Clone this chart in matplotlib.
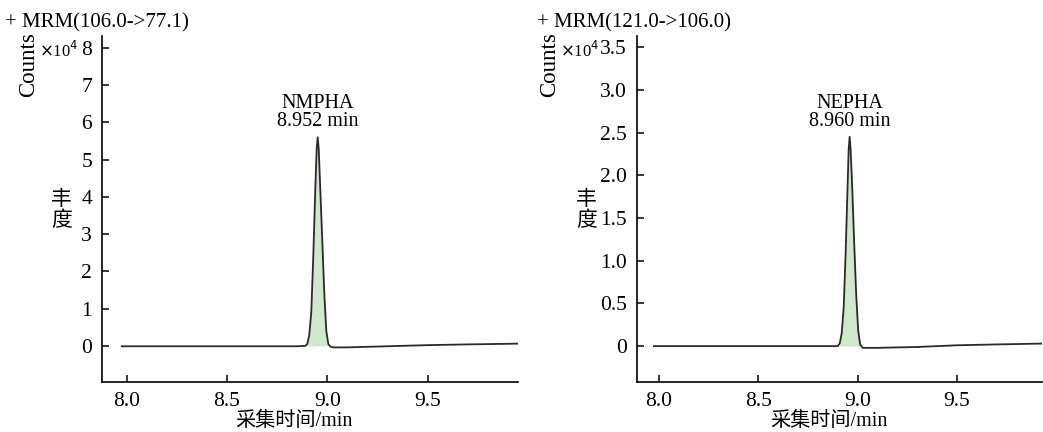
import matplotlib
matplotlib.use("Agg")
import matplotlib.pyplot as plt

plt.rcParams['font.family'] = ['Liberation Serif', 'Noto Sans CJK SC']
plt.rcParams['font.size'] = 15
plt.rcParams['axes.linewidth'] = 1.2

# retention time (min) and abundance (x10^4 counts)
t1 = [7.975, 8.1, 8.3, 8.5, 8.7, 8.85, 8.89, 8.90, 8.91, 8.92, 8.93, 8.94,
      8.947, 8.952, 8.957, 8.965, 8.975, 8.985, 8.995, 9.005, 9.015, 9.03,
      9.1, 9.3, 9.5, 9.7, 9.95]
y1 = [-0.01, -0.01, -0.01, -0.01, -0.01, -0.01, 0.0, 0.05, 0.3, 0.9, 2.4, 4.2,
      5.3, 5.6, 5.3, 4.2, 2.8, 1.4, 0.4, 0.05, -0.02, -0.04,
      -0.04, -0.01, 0.02, 0.04, 0.06]

t2 = [7.975, 8.1, 8.3, 8.5, 8.7, 8.85, 8.90, 8.91, 8.92, 8.93, 8.94, 8.95,
      8.955, 8.96, 8.965, 8.973, 8.983, 8.993, 9.003, 9.013, 9.025, 9.04,
      9.1, 9.3, 9.5, 9.7, 9.93]
y2 = [0.0, 0.0, 0.0, 0.0, 0.0, 0.0, 0.0, 0.03, 0.15, 0.45, 1.1, 1.9,
      2.3, 2.45, 2.3, 1.85, 1.2, 0.6, 0.18, 0.02, -0.02, -0.02,
      -0.02, -0.01, 0.01, 0.02, 0.03]

panels = [
    dict(t=t1, y=y1, title="+ MRM(106.0->77.1)", name="NMPHA", rt="8.952 min",
         apex=(8.952, 5.6), peak=(8.90, 9.005),
         yticks=[0, 1, 2, 3, 4, 5, 6, 7, 8],
         ylabels=["0", "1", "2", "3", "4", "5", "6", "7", "8"],
         ylim=(-0.97, 8.32), xlim=(7.875, 9.95),
         pos=[0.0975, 0.1157, 0.399, 0.801], xlab_x=0.462,
         dx_title=-97, dx_counts=-73, dx_exp=-43, dx_cn=-40),
    dict(t=t2, y=y2, title="+ MRM(121.0->106.0)", name="NEPHA", rt="8.960 min",
         apex=(8.960, 2.45), peak=(8.91, 9.013),
         yticks=[0, 0.5, 1.0, 1.5, 2.0, 2.5, 3.0, 3.5],
         ylabels=["0", "0.5", "1.0", "1.5", "2.0", "2.5", "3.0", "3.5"],
         ylim=(-0.42, 3.63), xlim=(7.888, 9.93),
         pos=[0.6104, 0.1157, 0.389, 0.801], xlab_x=0.473,
         dx_title=-100, dx_counts=-87, dx_exp=-57, dx_cn=-50),
]

fig = plt.figure(figsize=(10.43, 4.32), dpi=100)

for p in panels:
    ax = fig.add_axes(p["pos"])
    ax.plot(p["t"], p["y"], color="#2a2a2a", lw=1.3, zorder=3)
    lo, hi = p["peak"]
    ax.fill_between(p["t"], p["y"], 0,
                    where=[lo <= v <= hi for v in p["t"]],
                    color="#cfe8cc", lw=0, zorder=2)
    ax.set_xlim(*p["xlim"])
    ax.set_ylim(*p["ylim"])
    ax.set_xticks([8.0, 8.5, 9.0, 9.5])
    ax.set_xticklabels(["8.0", "8.5", "9.0", "9.5"])
    ax.set_yticks(p["yticks"])
    ax.set_yticklabels(p["ylabels"])
    ax.tick_params(direction="in", length=5, width=1.1, pad=7, labelsize=15.5)
    ax.spines["top"].set_visible(False)
    ax.spines["right"].set_visible(False)
    ax.set_xlabel("采集时间/min", fontsize=14.5)
    ax.xaxis.set_label_coords(p["xlab_x"], -0.113)
    ax.xaxis.label.set_va("center")
    ax.annotate(p["name"] + "\n" + p["rt"], xy=p["apex"], xycoords="data",
                xytext=(0, 6), textcoords="offset pixels",
                ha="center", va="bottom", linespacing=0.95, fontsize=14.5)
    # header texts, placed relative to the top of the y axis
    ax.annotate(p["title"], xy=(0, 1), xycoords="axes fraction",
                xytext=(p["dx_title"], 13), textcoords="offset pixels",
                ha="left", va="center")
    ax.annotate("Counts", xy=(0, 1), xycoords="axes fraction",
                xytext=(p["dx_counts"], -29), textcoords="offset pixels",
                rotation=90, ha="center", va="center", fontsize=16.5)
    ax.annotate(r"$\times$10$^4$", xy=(0, 1), xycoords="axes fraction",
                xytext=(p["dx_exp"], -15), textcoords="offset pixels",
                ha="center", va="center", fontsize=12)
    ax.annotate("丰\n度", xy=(0, 1), xycoords="axes fraction",
                xytext=(p["dx_cn"], -175), textcoords="offset pixels",
                ha="center", va="center", linespacing=1.05, fontsize=15)

fig.savefig("out.png", dpi=100)
